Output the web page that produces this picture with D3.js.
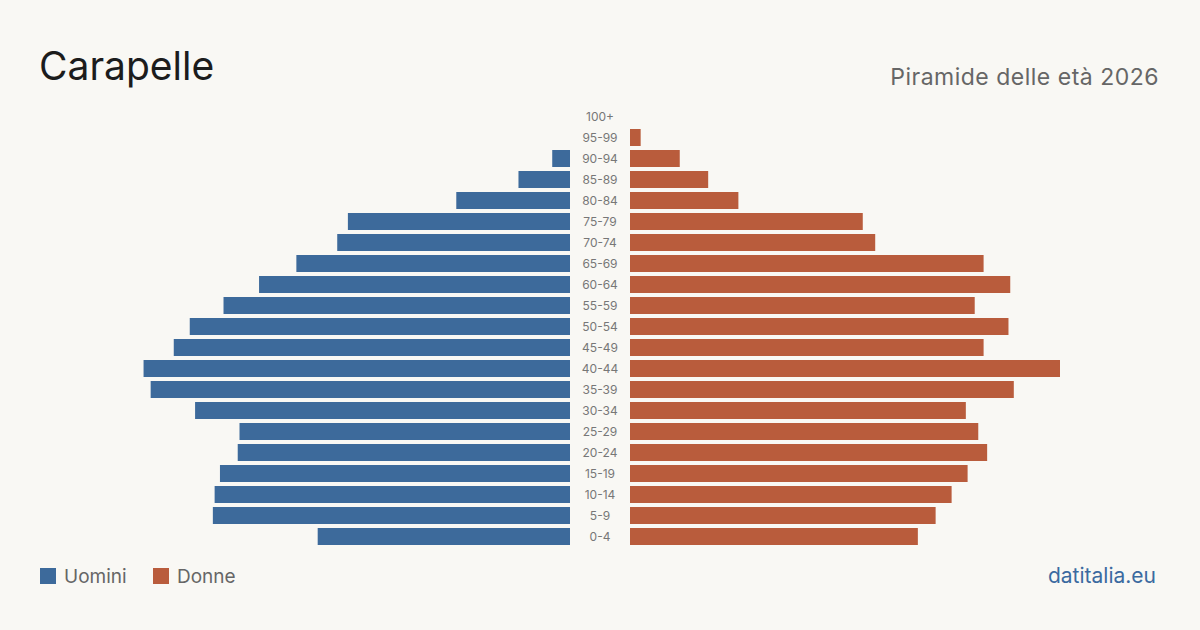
<!DOCTYPE html>
<html>
<head>
<meta charset="utf-8">
<script src="https://cdn.jsdelivr.net/npm/d3@7"></script>
<style>
  body { margin: 0; background: #f9f8f4; }
  svg { display: block; font-family: Inter, "Noto Sans", sans-serif; }
</style>
</head>
<body>
<svg id="chart" width="1200" height="630"></svg>
<script>
// age groups from oldest to youngest, as drawn top to bottom
var ageGroups = ["100+", "95-99", "90-94", "85-89", "80-84", "75-79", "70-74", "65-69", "60-64", "55-59",
  "50-54", "45-49", "40-44", "35-39", "30-34", "25-29", "20-24", "15-19", "10-14", "5-9", "0-4"];
var men   = [0, 0, 10, 29, 64, 125, 131, 154, 175, 195, 214, 223, 240, 236, 211, 186, 187, 197, 200, 201, 142];
var women = [0, 6, 28, 44, 61, 131, 138, 199, 214, 194, 213, 199, 242, 216, 189, 196, 201, 190, 181, 172, 162];
var legendLabels = ["Uomini", "Donne"];

var width = 1200, height = 630;
var blue = "#3d6a9b", orange = "#b95c3c";
var svg = d3.select("#chart");

svg.append("rect").attr("width", width).attr("height", height).attr("fill", "#f9f8f4");

var y = d3.scaleBand()
  .domain(ageGroups)
  .range([106, 547])
  .paddingInner(4 / 21)
  .paddingOuter(2 / 21);

var xLen = d3.scaleLinear().domain([0, 242]).range([0, 430]);
var centre = 600, gap = 30;

svg.append("g").selectAll("rect")
  .data(ageGroups)
  .enter().append("rect")
  .attr("x", (d, i) => centre - gap - xLen(men[i]))
  .attr("y", d => y(d))
  .attr("width", (d, i) => xLen(men[i]))
  .attr("height", y.bandwidth())
  .attr("fill", blue);

svg.append("g").selectAll("rect")
  .data(ageGroups)
  .enter().append("rect")
  .attr("x", centre + gap)
  .attr("y", d => y(d))
  .attr("width", (d, i) => xLen(women[i]))
  .attr("height", y.bandwidth())
  .attr("fill", orange);

svg.append("g").selectAll("text")
  .data(ageGroups)
  .enter().append("text")
  .attr("x", centre)
  .attr("y", d => y(d) + y.bandwidth() / 2)
  .attr("dy", "0.35em")
  .attr("text-anchor", "middle")
  .attr("font-size", 12)
  .attr("fill", "#777")
  .text(d => d);

// titles
svg.append("text")
  .attr("x", 39).attr("y", 80)
  .attr("font-size", 39)
  .attr("fill", "#1c1c1c")
  .text("Carapelle");

svg.append("text")
  .attr("x", 1159).attr("y", 85)
  .attr("text-anchor", "end")
  .attr("font-size", 23)
  .attr("letter-spacing", 0.5)
  .attr("fill", "#666")
  .text("Piramide delle età 2026");

// legend
var legend = svg.append("g").attr("transform", "translate(40,568)");
var legendX = [0, 113];
legendLabels.forEach((lab, i) => {
  legend.append("rect")
    .attr("x", legendX[i]).attr("y", 0)
    .attr("width", 16).attr("height", 16)
    .attr("fill", i === 0 ? blue : orange);
  legend.append("text")
    .attr("x", legendX[i] + 24).attr("y", 15)
    .attr("font-size", 19)
    .attr("fill", "#666")
    .text(lab);
});

svg.append("text")
  .attr("x", 1156).attr("y", 583)
  .attr("text-anchor", "end")
  .attr("font-size", 21)
  .attr("fill", "#3b6aa0")
  .text("datitalia.eu");
</script>
</body>
</html>
